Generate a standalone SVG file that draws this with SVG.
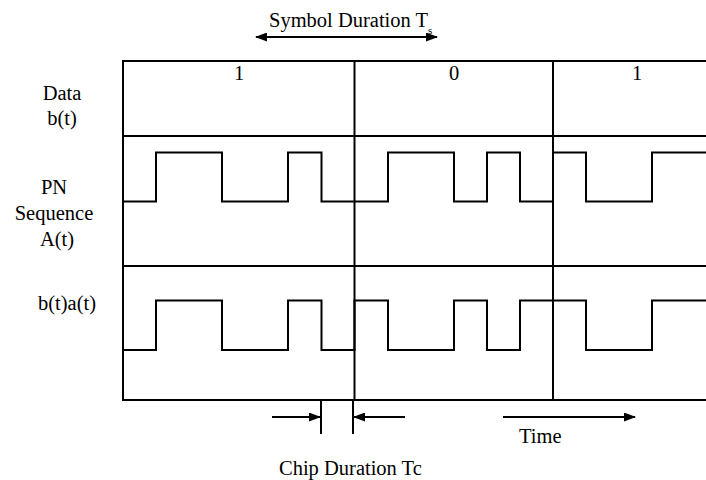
<svg xmlns="http://www.w3.org/2000/svg" width="706" height="480" viewBox="0 0 706 480">
  <style>
    text { font-family: "Liberation Serif", "Times New Roman", serif; font-size: 20.5px; fill: #000; }
    .mid { text-anchor: middle; }
    .frame { stroke: #000; stroke-width: 2; fill: none; }
    .wave { stroke: #000; stroke-width: 2; fill: none; stroke-linejoin: miter; }
    .conn { stroke: #000; stroke-width: 2; fill: none; }
  </style>
  <defs>
    <marker id="ah" markerUnits="userSpaceOnUse" markerWidth="12" markerHeight="9" refX="11" refY="4.5" orient="auto-start-reverse">
      <path d="M0,0 L12,4.5 L0,9 Z" fill="#000"/>
    </marker>
  </defs>
  <rect width="706" height="480" fill="#fff"/>

  <g id="frame" class="frame">
    <line x1="123" y1="61" x2="706" y2="61"/>
    <line x1="123" y1="136" x2="706" y2="136"/>
    <line x1="123" y1="266" x2="706" y2="266"/>
    <line x1="123" y1="400" x2="706" y2="400"/>
    <line x1="123" y1="60" x2="123" y2="401"/>
    <line x1="354.5" y1="60" x2="354.5" y2="401"/>
    <line x1="553" y1="60" x2="553" y2="401"/>
  </g>

  <g id="row-labels">
    <text class="mid" x="62" y="100">Data</text>
    <text class="mid" x="62" y="125">b(t)</text>
    <text class="mid" x="54" y="194">PN</text>
    <text class="mid" x="54" y="220">Sequence</text>
    <text class="mid" x="57" y="246">A(t)</text>
    <text class="mid" x="67" y="310">b(t)a(t)</text>
  </g>

  <g id="data-bits">
    <text class="mid" x="239" y="80">1</text>
    <text class="mid" x="454" y="80">0</text>
    <text class="mid" x="637" y="80">1</text>
  </g>

  <g id="pn-sequence">
    <polyline class="wave" points="123,201.5 156,201.5 156,152.5 222,152.5 222,201.5 288,201.5 288,152.5 321.5,152.5 321.5,201.5 388,201.5 388,152.5 454,152.5 454,201.5 487,201.5 487,152.5 520,152.5 520,201.5 553,201.5 553,152.5 586,152.5 586,201.5 652,201.5 652,152.5 706,152.5"/>
  </g>

  <g id="product-signal">
    <polyline class="wave" points="123,350 156,350 156,300.5 222,300.5 222,350 288,350 288,300.5 321.5,300.5 321.5,350 354.5,350 354.5,300.5 388,300.5 388,350 454,350 454,300.5 487,300.5 487,350 520,350 520,300.5 586,300.5 586,350 652,350 652,300.5 706,300.5"/>
  </g>

  <g id="symbol-duration">
    <text x="269" y="27">Symbol Duration T<tspan font-size="11" dy="7">s</tspan></text>
  </g>

  <g id="chip-duration">
    <line class="frame" x1="321" y1="400" x2="321" y2="434"/>
    <line class="frame" x1="353" y1="400" x2="353" y2="434"/>
    <text x="279" y="475">Chip Duration Tc</text>
  </g>

  <g id="time-label">
    <text x="519" y="443">Time</text>
  </g>

  <g id="connectors" class="conn">
    <line x1="256" y1="37" x2="437" y2="37" marker-start="url(#ah)" marker-end="url(#ah)"/>
    <line x1="272" y1="417" x2="320" y2="417" marker-end="url(#ah)"/>
    <line x1="405" y1="417" x2="354" y2="417" marker-end="url(#ah)"/>
    <line x1="503" y1="417" x2="635" y2="417" marker-end="url(#ah)"/>
  </g>
</svg>
